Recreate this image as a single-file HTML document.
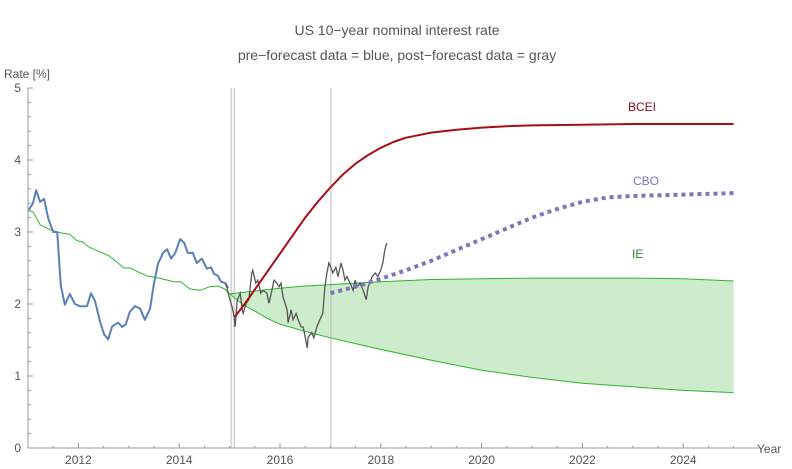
<!DOCTYPE html>
<html><head><meta charset="utf-8"><style>
body{margin:0;background:#fff;}
svg{display:block;font-family:"Liberation Sans",sans-serif;}
</style></head><body>
<svg id="chart" width="792" height="469">
<text x="397" y="35" text-anchor="middle" font-size="14" fill="#555">US 10−year nominal interest rate</text>
<text x="397" y="60" text-anchor="middle" font-size="14" fill="#555">pre−forecast data = blue, post−forecast data = gray</text>
<text x="4" y="78" font-size="12" fill="#555">Rate [%]</text>
<text x="757" y="453" font-size="12" fill="#555">Year</text>
<g id="marks"></g>
<g id="axes"></g>
</svg>
<script>
const xTicks=[2012,2014,2016,2018,2020,2022,2024];
const yTicks=[0,1,2,3,4,5];
const histYears=[2011.0,2011.1,2011.16,2011.24,2011.32,2011.4,2011.5,2011.58,2011.65,2011.73,2011.83,2011.93,2012.03,2012.17,2012.25,2012.33,2012.43,2012.51,2012.59,2012.67,2012.79,2012.87,2012.94,2013.02,2013.12,2013.22,2013.32,2013.42,2013.5,2013.58,2013.68,2013.76,2013.84,2013.92,2014.02,2014.1,2014.17,2014.27,2014.35,2014.45,2014.55,2014.63,2014.69,2014.77,2014.83,2014.91,2014.97];
const histRates=[3.29,3.40,3.58,3.42,3.46,3.19,3.0,3.0,2.26,1.99,2.14,2.0,1.97,1.97,2.15,2.04,1.75,1.58,1.51,1.69,1.74,1.68,1.72,1.89,1.97,1.94,1.78,1.93,2.29,2.56,2.71,2.76,2.63,2.71,2.90,2.85,2.71,2.71,2.57,2.63,2.49,2.51,2.42,2.39,2.31,2.29,2.22];
const postYears=[2014.93,2014.97,2015.05,2015.09,2015.11,2015.15,2015.21,2015.25,2015.27,2015.33,2015.38,2015.44,2015.46,2015.52,2015.56,2015.62,2015.66,2015.74,2015.78,2015.84,2015.88,2015.94,2015.98,2016.02,2016.06,2016.14,2016.16,2016.22,2016.26,2016.32,2016.36,2016.42,2016.46,2016.5,2016.54,2016.56,2016.63,2016.67,2016.73,2016.79,2016.85,2016.89,2016.93,2016.97,2017.01,2017.05,2017.11,2017.15,2017.21,2017.25,2017.29,2017.33,2017.39,2017.45,2017.49,2017.53,2017.59,2017.65,2017.71,2017.75,2017.83,2017.89,2017.94,2018.0,2018.04,2018.08,2018.12];
const postRates=[2.29,2.15,1.96,1.82,1.68,2.05,2.15,1.92,1.87,2.01,2.06,2.43,2.47,2.29,2.33,2.15,2.19,2.15,2.01,2.19,2.33,2.29,2.24,2.29,2.1,1.92,1.74,1.92,1.78,1.87,1.78,1.68,1.68,1.54,1.39,1.54,1.6,1.53,1.68,1.78,1.87,2.24,2.43,2.57,2.51,2.43,2.51,2.38,2.57,2.47,2.33,2.38,2.29,2.19,2.33,2.24,2.29,2.19,2.06,2.24,2.38,2.43,2.38,2.47,2.57,2.75,2.85];
const ieHistYears=[2011.0,2011.1,2011.24,2011.44,2011.63,2011.83,2011.97,2012.09,2012.21,2012.61,2012.77,2012.9,2013.04,2013.2,2013.36,2013.6,2013.9,2014.03,2014.21,2014.41,2014.61,2014.77,2014.9,2015.0];
const ieHistRates=[3.3,3.28,3.1,3.03,2.99,2.97,2.88,2.86,2.79,2.67,2.58,2.5,2.5,2.44,2.39,2.36,2.31,2.31,2.21,2.19,2.24,2.25,2.21,2.14];
const bandYears=[2015,2015.25,2015.5,2015.75,2016,2016.5,2017,2017.5,2018,2019,2020,2021,2022,2023,2024,2025];
const ieUpper=[2.14,2.16,2.18,2.2,2.22,2.25,2.27,2.29,2.31,2.34,2.35,2.36,2.36,2.36,2.35,2.32];
const ieLower=[2.14,2.0,1.9,1.8,1.72,1.62,1.53,1.45,1.37,1.22,1.08,0.98,0.9,0.85,0.8,0.77];
const bceiYears=[2015.1,2015.3,2015.5,2015.75,2016,2016.25,2016.5,2016.75,2017,2017.25,2017.5,2017.75,2018,2018.25,2018.5,2019,2019.5,2020,2020.5,2021,2022,2023,2025];
const bceiRates=[1.82,2.0,2.2,2.45,2.7,2.95,3.2,3.42,3.62,3.8,3.95,4.07,4.17,4.25,4.31,4.38,4.42,4.45,4.47,4.48,4.49,4.5,4.5];
const cboYears=[2017,2017.5,2018,2018.5,2019,2019.5,2020,2020.5,2021,2021.5,2022,2022.5,2023,2024,2025];
const cboRates=[2.15,2.24,2.35,2.47,2.6,2.75,2.9,3.05,3.2,3.32,3.42,3.48,3.5,3.52,3.54];
const forecastDates=[2015.03,2015.09,2017.01];

const NS="http://www.w3.org/2000/svg";
const X=y=>28+(y-2011)*50.4;
const Y=v=>448-v*72;
function mk(tag,attrs,parent){const e=document.createElementNS(NS,tag);for(const k in attrs)e.setAttribute(k,attrs[k]);parent.appendChild(e);return e;}
const marks=document.getElementById('marks'),axes=document.getElementById('axes');
function pts(xs,ys){return xs.map((x,i)=>X(x).toFixed(1)+','+Y(ys[i]).toFixed(1)).join(' ');}

const bandPts=pts(bandYears,ieUpper)+' '+pts(bandYears.slice().reverse(),ieLower.slice().reverse());
const band=mk('polygon',{points:bandPts,fill:'#cdeccc',stroke:'none'},marks);


forecastDates.forEach(d=>{const l=mk('line',{x1:X(d),x2:X(d),y1:88,y2:448,stroke:'#bbb','stroke-width':1},marks);

});
const ieH=mk('polyline',{points:pts(ieHistYears,ieHistRates),fill:'none',stroke:'#2db52d','stroke-width':1},marks);


const ieU=mk('polyline',{points:pts(bandYears,ieUpper),fill:'none',stroke:'#2db52d','stroke-width':1},marks);


const ieL=mk('polyline',{points:pts(bandYears,ieLower),fill:'none',stroke:'#2db52d','stroke-width':1},marks);


const hist=mk('polyline',{points:pts(histYears,histRates),fill:'none',stroke:'#5b7fb8','stroke-width':2,'stroke-linejoin':'round'},marks);


const post=mk('polyline',{points:pts(postYears,postRates),fill:'none',stroke:'#555','stroke-width':1.3},marks);


const cbo=mk('polyline',{points:pts(cboYears,cboRates),fill:'none',stroke:'#8275c0','stroke-width':4,'stroke-dasharray':'4,4'},marks);


const bcei=mk('polyline',{points:pts(bceiYears,bceiRates),fill:'none',stroke:'#a80e14','stroke-width':2,'stroke-linejoin':'round'},marks);


[['BCEI',628,111,'#8b0a1a'],['CBO',633,185,'#8275c0'],['IE',632,258,'#2a8a2a']].forEach(t=>{const e=mk('text',{x:t[1],y:t[2],'font-size':12,fill:t[3]},marks);e.textContent=t[0];

});

const ax=mk('line',{x1:28,x2:760,y1:448,y2:448,stroke:'#999'},axes);


const ay=mk('line',{x1:28,x2:28,y1:88,y2:448,stroke:'#999'},axes);


for(let yr=2011;yr<=2025.01;yr+=0.5){const major=xTicks.includes(yr);mk('line',{x1:X(yr),x2:X(yr),y1:448,y2:major?443:446,stroke:'#999'},axes);}
xTicks.forEach(t=>{const e=mk('text',{x:X(t),y:464,'text-anchor':'middle','font-size':12,fill:'#555'},axes);e.textContent=t;

});
for(let v=0;v<=5.001;v+=0.2){const major=Math.abs(v-Math.round(v))<0.01;mk('line',{x1:28,x2:major?33:31,y1:Y(v),y2:Y(v),stroke:'#999'},axes);}
yTicks.forEach(t=>{const e=mk('text',{x:21,y:Y(t)+4,'text-anchor':'end','font-size':12,fill:'#555'},axes);e.textContent=t;

});
</script>
</body></html>
